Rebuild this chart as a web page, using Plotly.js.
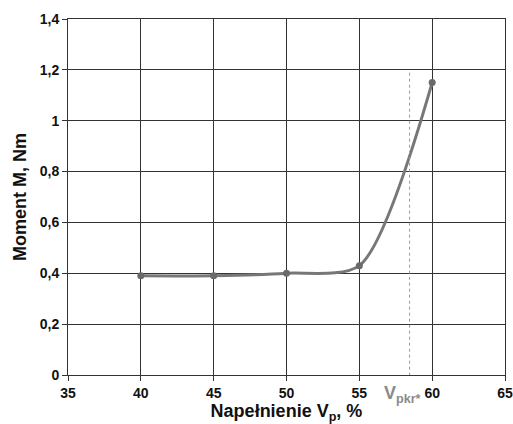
<!DOCTYPE html>
<html>
<head>
<meta charset="utf-8">
<script src="https://cdn.plot.ly/plotly-3.0.1.min.js"></script>
<style>html,body{margin:0;padding:0;background:#fff;}#chart{width:513px;height:424px;}</style>
</head>
<body>
<div id="chart"></div>
<script>
const fillLevel = [40, 45, 50, 55, 60];
const moment = [0.39, 0.39, 0.40, 0.43, 1.15];
const xTicks = [35, 40, 45, 50, 55, 60, 65];
const yTicks = [0, 0.2, 0.4, 0.6, 0.8, 1, 1.2, 1.4];
const yTickLabels = ['0', '0,2', '0,4', '0,6', '0,8', '1', '1,2', '1,4'];
const criticalFill = 58.45;
const criticalTop = 1.2;

const trace = {
  x: fillLevel, y: moment, type: 'scatter', mode: 'lines+markers',
  line: {color: '#777777', width: 3, shape: 'spline', smoothing: 0.75},
  marker: {color: '#6a6a6a', size: 7},
  hoverinfo: 'skip'
};

const FF = 'Liberation Sans, Arial, sans-serif';
const layout = {
  width: 513, height: 424,
  margin: {l: 68, r: 8, t: 19, b: 49},
  paper_bgcolor: '#fff', plot_bgcolor: '#fff',
  showlegend: false,
  font: {family: FF, color: '#111'},
  xaxis: {
    range: [35, 65], tickvals: xTicks, ticktext: xTicks.map(v => '<b>' + v + '</b>'),
    showgrid: true, gridcolor: '#333', gridwidth: 1,
    zeroline: false, showline: true, linecolor: '#333', linewidth: 1, mirror: true,
    ticks: 'outside', ticklen: 5, tickcolor: '#333',
    tickfont: {size: 14, family: FF, color: '#111'},
    title: {text: '<b>Napełnienie V<sub>p</sub>, %</b>', standoff: 3,
      font: {size: 18, family: FF, color: '#111'}}
  },
  yaxis: {
    range: [0, 1.4], tickvals: yTicks, ticktext: yTickLabels.map(t => '<b>' + t + '</b>'),
    showgrid: true, gridcolor: '#333', gridwidth: 1,
    zeroline: false, showline: true, linecolor: '#333', linewidth: 1, mirror: true,
    ticks: 'outside', ticklen: 5, tickcolor: '#333',
    tickfont: {size: 14, family: FF, color: '#111'},
    title: {text: '<b>Moment M, Nm</b>', standoff: 8,
      font: {size: 18, family: FF, color: '#111'}}
  },
  shapes: [{
    type: 'line', xref: 'x', yref: 'y', x0: criticalFill, x1: criticalFill,
    y0: -0.05, y1: criticalTop,
    line: {color: '#999', width: 1, dash: 'dot'}
  }],
  annotations: [{
    xref: 'x', yref: 'paper', x: criticalFill - 0.5, y: -0.018,
    text: '<b>V<sub>pkr*</sub></b>', showarrow: false, xanchor: 'center', yanchor: 'top',
    font: {size: 18, family: FF, color: '#8a8a8a'}
  }]
};

Plotly.newPlot('chart', [trace], layout, {displayModeBar: false, staticPlot: true});
</script>
</body>
</html>
